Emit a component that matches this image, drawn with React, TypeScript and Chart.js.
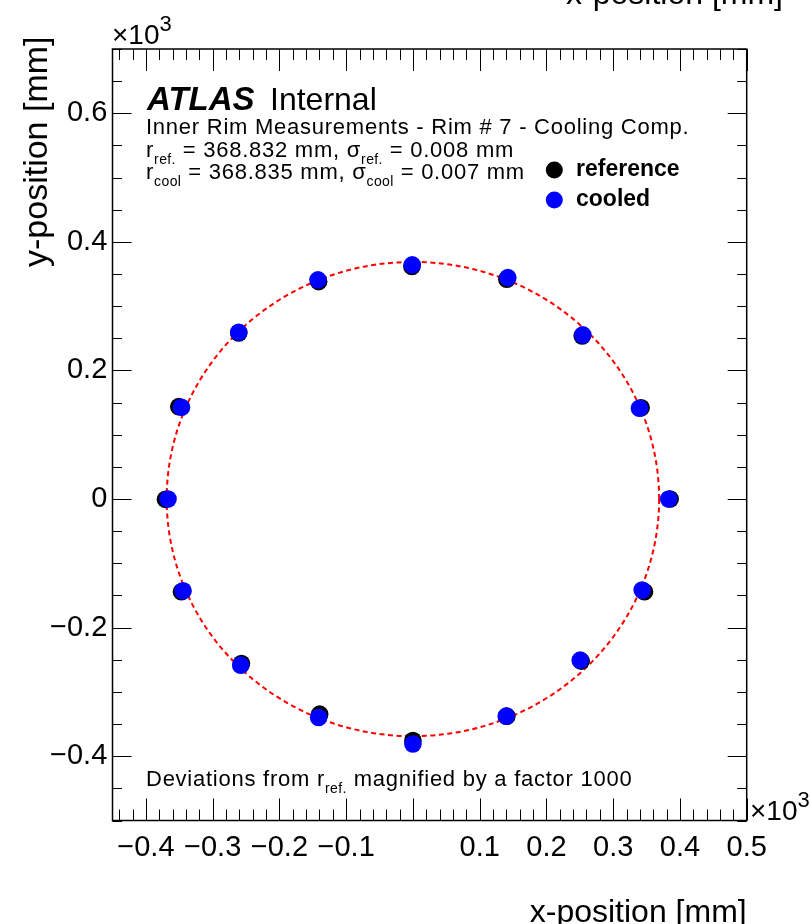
import { useEffect, useRef } from 'react';
import { Chart, registerables } from 'chart.js';

Chart.register(...registerables);

// Values in units of 10^3 mm (deviations from r_ref magnified by 1000)
const REF_X = [-0.0015, 0.1407, 0.2536, 0.3419, 0.3853, 0.3469, 0.2521, 0.1407, 0.0, -0.1397, -0.2569, -0.3467, -0.3707, -0.3507, -0.2609, -0.1412];
const REF_Y = [0.3616, 0.3420, 0.2537, 0.1421, 0.0, -0.1443, -0.2521, -0.3377, -0.3756, -0.3346, -0.2557, -0.1443, -0.0005, 0.1437, 0.2584, 0.3382];
const COOL_X = [-0.0010, 0.1422, 0.2545, 0.3394, 0.3832, 0.3434, 0.2506, 0.1398, 0.0, -0.1412, -0.2579, -0.3443, -0.3668, -0.3467, -0.2609, -0.1422];
const COOL_Y = [0.3642, 0.3444, 0.2553, 0.1412, 0.0, -0.1416, -0.2506, -0.3377, -0.3809, -0.3398, -0.2584, -0.1427, 0.0, 0.1427, 0.2595, 0.3409];
const FIT_RADIUS = 0.368832;

const X_MIN = -0.45;
const X_MAX = 0.5;
const Y_MIN = -0.5;
const Y_MAX = 0.7;
const X_TICKS = [-0.4, -0.3, -0.2, -0.1, 0.1, 0.2, 0.3, 0.4, 0.5];
const X_TICK_LABELS = ['\u22120.4', '\u22120.3', '\u22120.2', '\u22120.1', '0.1', '0.2', '0.3', '0.4', '0.5'];
const Y_TICKS = [-0.4, -0.2, 0, 0.2, 0.4, 0.6];
const Y_TICK_LABELS = ['\u22120.4', '\u22120.2', '0', '0.2', '0.4', '0.6'];

const LEGEND_LABELS = ['reference', 'cooled'];
const TITLE_X = 'x-position [mm]';
const TITLE_Y = 'y-position [mm]';

const FONT = "'Liberation Sans', Arial, Helvetica, sans-serif";

type Seg = { t: string; size: number; bold?: boolean; italic?: boolean; dy?: number; ls?: number };

function drawRich(ctx: CanvasRenderingContext2D, x: number, y: number, segs: Seg[]) {
  let cx = x;
  for (const s of segs) {
    ctx.font = `${s.italic ? 'italic ' : ''}${s.bold ? 'bold ' : ''}${s.size}px ${FONT}`;
    (ctx as any).letterSpacing = `${s.ls ?? 0}px`;
    ctx.fillText(s.t, cx, y + (s.dy ?? 0));
    cx += ctx.measureText(s.t).width;
  }
  (ctx as any).letterSpacing = '0px';
}

const overlayPlugin = {
  id: 'rootStyle',
  beforeDatasetsDraw(chart: any) {
    const ctx: CanvasRenderingContext2D = chart.ctx;
    const xs = chart.scales.x;
    const ys = chart.scales.y;
    const cx = xs.getPixelForValue(0);
    const cy = ys.getPixelForValue(0);
    const rx = xs.getPixelForValue(FIT_RADIUS) - cx;
    const ry = cy - ys.getPixelForValue(FIT_RADIUS);
    ctx.save();
    ctx.strokeStyle = '#ff0000';
    ctx.lineWidth = 2;
    ctx.setLineDash([5, 3.5]);
    ctx.beginPath();
    ctx.ellipse(cx, cy, rx, ry, 0, 0, Math.PI * 2);
    ctx.stroke();
    ctx.restore();
  },
  afterDraw(chart: any) {
    const ctx: CanvasRenderingContext2D = chart.ctx;
    const xs = chart.scales.x;
    const ys = chart.scales.y;
    const { left, right, top, bottom } = chart.chartArea;
    ctx.save();
    ctx.strokeStyle = '#000';
    ctx.lineWidth = 1;
    const line = (x1: number, y1: number, x2: number, y2: number) => {
      ctx.beginPath();
      ctx.moveTo(x1, y1);
      ctx.lineTo(x2, y2);
      ctx.stroke();
    };
    for (let k = Math.ceil(X_MIN / 0.02 - 1e-9); k <= Math.floor(X_MAX / 0.02 + 1e-9); k++) {
      const px = Math.round(xs.getPixelForValue(k * 0.02)) + 0.5;
      const len = k % 5 === 0 ? 22 : 11;
      line(px, bottom, px, bottom - len);
      line(px, top, px, top + len);
    }
    for (let k = Math.ceil(Y_MIN / 0.05 - 1e-9); k <= Math.floor(Y_MAX / 0.05 + 1e-9); k++) {
      const py = Math.round(ys.getPixelForValue(k * 0.05)) + 0.5;
      const len = k % 4 === 0 ? 19 : 9.5;
      line(left, py, left + len, py);
      line(right, py, right - len, py);
    }
    ctx.lineWidth = 1.5;
    ctx.strokeRect(left, top, right - left, bottom - top);

    ctx.fillStyle = '#000';
    ctx.textBaseline = 'alphabetic';
    ctx.textAlign = 'left';

    // exponent labels
    drawRich(ctx, 112, 44, [{ t: '\u00d710', size: 28 }, { t: '3', size: 22, dy: -13 }]);
    drawRich(ctx, 750, 820, [{ t: '\u00d710', size: 28 }, { t: '3', size: 22, dy: -13 }]);

    // axis titles
    ctx.font = `32px ${FONT}`;
    ctx.textAlign = 'right';
    ctx.fillText(TITLE_X, right, 922);
    ctx.fillText(TITLE_X, 783, 3.5);
    ctx.textAlign = 'left';
    ctx.font = `34px ${FONT}`;
    ctx.save();
    ctx.translate(47, 267);
    ctx.rotate(-Math.PI / 2);
    ctx.fillText(TITLE_Y, 0, 0);
    ctx.restore();

    // ATLAS label
    drawRich(ctx, 147, 110, [{ t: 'ATLAS', size: 33, bold: true, italic: true }]);
    drawRich(ctx, 270, 110, [{ t: 'Internal', size: 32 }]);

    const big = 22;
    const sub = 14;
    const ls = 0.75;
    const sls = 0.4;
    drawRich(ctx, 146, 134, [{ t: 'Inner Rim Measurements - Rim # 7 - Cooling Comp.', size: big, ls }]);
    drawRich(ctx, 146, 157, [
      { t: 'r', size: big, ls },
      { t: 'ref.', size: sub, dy: 6.5, ls: sls },
      { t: ' = 368.832 mm, \u03c3', size: big, ls },
      { t: 'ref.', size: sub, dy: 6.5, ls: sls },
      { t: ' = 0.008 mm', size: big, ls },
    ]);
    drawRich(ctx, 146, 179, [
      { t: 'r', size: big, ls },
      { t: 'cool', size: sub, dy: 6.5, ls: sls },
      { t: ' = 368.835 mm, \u03c3', size: big, ls },
      { t: 'cool', size: sub, dy: 6.5, ls: sls },
      { t: ' = 0.007 mm', size: big, ls },
    ]);
    drawRich(ctx, 146, 786, [
      { t: 'Deviations from r', size: big, ls },
      { t: 'ref.', size: sub, dy: 6.5, ls: sls },
      { t: ' magnified by a factor 1000', size: big, ls },
    ]);

    // legend
    const legendColors = ['#000000', '#0000ff'];
    const legendY = [170, 200];
    for (let i = 0; i < 2; i++) {
      ctx.fillStyle = legendColors[i];
      ctx.beginPath();
      ctx.arc(554.3, legendY[i], 8.5, 0, Math.PI * 2);
      ctx.fill();
      ctx.fillStyle = '#000';
      drawRich(ctx, 576, legendY[i] + 5.5, [{ t: LEGEND_LABELS[i], size: 23, bold: true }]);
    }
    ctx.restore();
  },
};

export default function App() {
  const ref = useRef<HTMLCanvasElement | null>(null);
  useEffect(() => {
    if (!ref.current) return;
    const chart = new Chart(ref.current, {
      type: 'scatter',
      data: {
        datasets: [
          {
            label: LEGEND_LABELS[1],
            data: COOL_X.map((x, i) => ({ x, y: COOL_Y[i] })),
            backgroundColor: '#0000ff',
            borderWidth: 0,
            pointRadius: 8.8,
            pointHoverRadius: 8.8,
          },
          {
            label: LEGEND_LABELS[0],
            data: REF_X.map((x, i) => ({ x, y: REF_Y[i] })),
            backgroundColor: '#000000',
            borderWidth: 0,
            pointRadius: 8.8,
            pointHoverRadius: 8.8,
          },
        ],
      },
      options: {
        animation: false,
        responsive: false,
        devicePixelRatio: 1,
        events: [],
        layout: { padding: { top: 49, right: 63.3, left: 0, bottom: 0 } },
        plugins: { legend: { display: false }, tooltip: { enabled: false } },
        scales: {
          x: {
            type: 'linear',
            min: X_MIN,
            max: X_MAX,
            afterBuildTicks: (s: any) => {
              s.ticks = X_TICKS.map((v) => ({ value: v }));
            },
            afterFit: (s: any) => {
              s.height = 924 - 820.5;
            },
            ticks: {
              callback: (_v: any, i: number) => X_TICK_LABELS[i],
              font: { family: FONT, size: 29 },
              color: '#000',
              padding: 10,
              maxRotation: 0,
              minRotation: 0,
              autoSkip: false,
            },
            grid: { display: false, drawTicks: false },
            border: { display: false },
          },
          y: {
            type: 'linear',
            min: Y_MIN,
            max: Y_MAX,
            afterBuildTicks: (s: any) => {
              s.ticks = Y_TICKS.map((v) => ({ value: v }));
            },
            afterFit: (s: any) => {
              s.width = 112.5;
            },
            ticks: {
              callback: (_v: any, i: number) => Y_TICK_LABELS[i],
              font: { family: FONT, size: 29 },
              color: '#000',
              padding: 5.2,
              autoSkip: false,
            },
            grid: { display: false, drawTicks: false },
            border: { display: false },
          },
        },
      },
      plugins: [overlayPlugin],
    } as any);
    return () => chart.destroy();
  }, []);
  return (
    <div style={{ position: 'absolute', left: 0, top: 0, width: 810, height: 924, background: '#fff' }}>
      <canvas ref={ref} width={810} height={924} style={{ display: 'block' }} />
    </div>
  );
}
